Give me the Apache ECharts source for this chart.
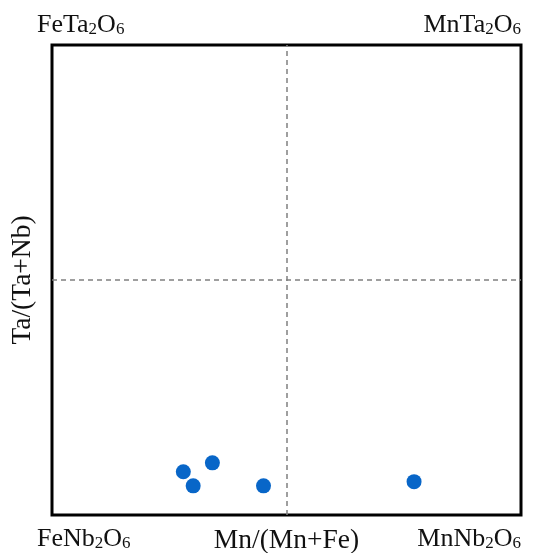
<!DOCTYPE html>
<html><head><meta charset="utf-8">
<script src="https://cdn.jsdelivr.net/npm/echarts@6/dist/echarts.min.js"></script>
<style>html,body{margin:0;padding:0;background:#fff}#c{width:534px;height:553px}</style>
</head><body><div id="c"></div>
<script>
var mnRatio = [0.280, 0.301, 0.342, 0.451, 0.772];
var taRatio = [0.092, 0.062, 0.111, 0.062, 0.071];
var xName = 'Mn/(Mn+Fe)';
var yName = 'Ta/(Ta+Nb)';
var cornerLabels = [['FeTa', '2', 'O', '6'], ['MnTa', '2', 'O', '6'], ['FeNb', '2', 'O', '6'], ['MnNb', '2', 'O', '6']];
var dividers = [0.5];

var FONT = 'Liberation Serif';
var FS = 26;
var NFS = 27.5;
function rich(parts) {
  return '{m|' + parts[0] + '}{s|' + parts[1] + '}{m|' + parts[2] + '}{s|' + parts[3] + '}';
}
var richStyle = {
  m: { fontFamily: FONT, fontSize: FS, color: '#111' },
  s: { fontFamily: FONT, fontSize: 17, color: '#111', padding: [10, 0, 0, 0] }
};
function cornerText(parts, pos) {
  var o = { type: 'text', style: { text: rich(parts), rich: richStyle, font: FS + 'px ' + FONT, fill: '#111' } };
  for (var k in pos) o[k] = pos[k];
  return o;
}
var chart = echarts.init(document.getElementById('c'));
chart.setOption({
  animation: false,
  grid: { left: 52, right: 13, top: 45, bottom: 38, outerBoundsMode: 'none', containLabel: false,
          show: true, borderColor: '#000', borderWidth: 3, backgroundColor: '#fff' },
  xAxis: {
    type: 'value', min: 0, max: 1,
    name: xName, nameLocation: 'middle', nameGap: 12,
    nameTextStyle: { fontFamily: FONT, fontSize: NFS, color: '#111', verticalAlign: 'top' },
    axisLine: { show: false }, axisTick: { show: false }, axisLabel: { show: false }, splitLine: { show: false }
  },
  yAxis: {
    type: 'value', min: 0, max: 1,
    name: yName, nameLocation: 'middle', nameGap: 15,
    nameTextStyle: { fontFamily: FONT, fontSize: NFS, color: '#111' },
    axisLine: { show: false }, axisTick: { show: false }, axisLabel: { show: false }, splitLine: { show: false }
  },
  graphic: [
    cornerText(cornerLabels[0], { left: 37, top: 12 }),
    cornerText(cornerLabels[1], { right: 13, top: 12 }),
    cornerText(cornerLabels[2], { left: 37, top: 526 }),
    cornerText(cornerLabels[3], { right: 13, top: 526 })
  ],
  series: [{
    type: 'scatter',
    data: mnRatio.map(function (v, i) { return [v, taRatio[i]]; }),
    symbolSize: 15,
    itemStyle: { color: '#0866c8', opacity: 1 },
    z: 5,
    markLine: {
      silent: true, symbol: 'none', label: { show: false },
      lineStyle: { color: '#808080', type: [5, 4], width: 1.5 },
      data: [{ xAxis: dividers[0] }, { yAxis: dividers[0] }]
    }
  }]
});
</script></body></html>
